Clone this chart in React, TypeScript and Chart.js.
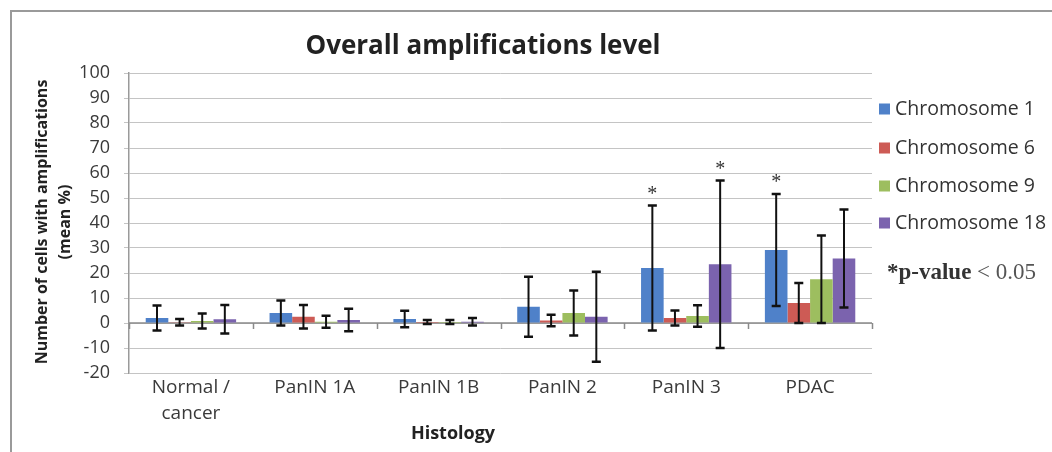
import React, { useEffect, useRef } from 'react';
import { Chart, registerables } from 'chart.js';

Chart.register(...registerables);

// ---------- data ----------
const chartTitle = 'Overall amplifications level';
const yAxisTitle = ['Number of cells with amplifications', '(mean %)'];
const xAxisTitle = 'Histology';
const categories: (string | string[])[] = [['Normal /', 'cancer'], 'PanIN 1A', 'PanIN 1B', 'PanIN 2', 'PanIN 3', 'PDAC'];
const seriesNames = ['Chromosome 1', 'Chromosome 6', 'Chromosome 9', 'Chromosome 18'];

const chr1Mean = [2, 4, 1.6, 6.5, 22, 29.2];
const chr1Err = [5, 5, 3.3, 12, 25, 22.4];
const chr6Mean = [0.3, 2.5, 0.4, 1, 2, 8];
const chr6Err = [1.3, 4.7, 0.8, 2.3, 3, 8];
const chr9Mean = [0.8, 0.5, 0.4, 4, 2.8, 17.5];
const chr9Err = [3, 2.4, 0.8, 9, 4.3, 17.5];
const chr18Mean = [1.5, 1.2, 0.5, 2.5, 23.5, 25.8];
const chr18Err = [5.7, 4.5, 1.5, 18, 33.5, 19.6];

const chr1Sig = [false, false, false, false, true, true];
const chr6Sig = [false, false, false, false, false, false];
const chr9Sig = [false, false, false, false, false, false];
const chr18Sig = [false, false, false, false, true, false];

const yMin = -20;
const yMax = 100;
const yStep = 10;
const footnoteBold = '*p-value';
const footnoteRest = ' < 0.05';

// ---------- styles ----------
const colors = ['#4F81C9', '#CD5B55', '#9DBE5F', '#7B63AE'];
const means = [chr1Mean, chr6Mean, chr9Mean, chr18Mean];
const errs = [chr1Err, chr6Err, chr9Err, chr18Err];
const sigs = [chr1Sig, chr6Sig, chr9Sig, chr18Sig];
const SANS = '"Open Sans", Lato, sans-serif';
const SERIF = '"Liberation Serif", "DejaVu Serif", serif';

const decor = {
  id: 'decor',
  beforeDatasetsDraw(chart: any) {
    const { ctx, chartArea } = chart;
    const x = chart.scales.x;
    const y = chart.scales.y;
    const y0 = y.getPixelForValue(0);
    const step = x.getPixelForValue(1) - x.getPixelForValue(0);
    ctx.save();
    ctx.strokeStyle = '#8a8a8a';
    ctx.lineWidth = 1.5;
    ctx.beginPath();
    ctx.moveTo(chartArea.left, y0);
    ctx.lineTo(chartArea.right, y0);
    for (let i = 0; i <= categories.length; i++) {
      const px = Math.round(x.getPixelForValue(i) - step / 2) + 0.5;
      ctx.moveTo(px, y0);
      ctx.lineTo(px, y0 + 6);
    }
    ctx.stroke();
    ctx.restore();
  },
  afterDatasetsDraw(chart: any) {
    const { ctx } = chart;
    const y = chart.scales.y;
    ctx.save();
    chart.data.datasets.forEach((ds: any, di: number) => {
      const meta = chart.getDatasetMeta(di);
      meta.data.forEach((bar: any, i: number) => {
        const v = ds.data[i];
        const e = errs[di][i];
        const top = y.getPixelForValue(v + e);
        const bot = y.getPixelForValue(v - e);
        const cx = bar.x;
        ctx.strokeStyle = '#111';
        ctx.lineWidth = 2;
        ctx.beginPath();
        ctx.moveTo(cx, top);
        ctx.lineTo(cx, bot);
        ctx.stroke();
        ctx.lineWidth = 2.5;
        ctx.beginPath();
        ctx.moveTo(cx - 4.5, top);
        ctx.lineTo(cx + 4.5, top);
        ctx.moveTo(cx - 4.5, bot);
        ctx.lineTo(cx + 4.5, bot);
        ctx.stroke();
        if (sigs[di][i]) {
          ctx.fillStyle = '#333';
          ctx.font = '20px ' + SERIF;
          ctx.textAlign = 'center';
          ctx.textBaseline = 'middle';
          ctx.fillText('*', cx, top - 11);
        }
      });
    });
    ctx.restore();
  },
  afterDraw(chart: any) {
    const { ctx } = chart;
    ctx.save();
    // frame
    ctx.strokeStyle = '#9a9a9a';
    ctx.lineWidth = 2;
    ctx.beginPath();
    ctx.moveTo(11, 452);
    ctx.lineTo(11, 11);
    ctx.lineTo(1052, 11);
    ctx.stroke();

    // title
    ctx.fillStyle = '#222';
    ctx.font = 'bold 26px ' + SANS;
    ctx.textAlign = 'center';
    ctx.textBaseline = 'alphabetic';
    ctx.fillText(chartTitle, 483, 54);

    // y-axis title
    ctx.save();
    ctx.translate(0, 222);
    ctx.rotate(-Math.PI / 2);
    ctx.font = 'bold 16px ' + SANS;
    ctx.textAlign = 'center';
    ctx.textBaseline = 'middle';
    ctx.fillText(yAxisTitle[0], 0, 42);
    ctx.fillText(yAxisTitle[1], 0, 65);
    ctx.restore();

    // x-axis title
    ctx.font = 'bold 18px ' + SANS;
    ctx.textAlign = 'center';
    ctx.textBaseline = 'alphabetic';
    ctx.fillText(xAxisTitle, 453, 439);

    // legend
    const legendY = [109, 148, 186, 223];
    ctx.textAlign = 'left';
    ctx.textBaseline = 'middle';
    ctx.font = '19.5px ' + SANS;
    seriesNames.forEach((name, i) => {
      ctx.fillStyle = colors[i];
      ctx.fillRect(879, legendY[i] - 5.5, 11, 11);
      ctx.fillStyle = '#333';
      ctx.fillText(name, 895, legendY[i]);
    });

    // footnote
    ctx.font = 'bold 23px ' + SERIF;
    ctx.fillStyle = '#333';
    ctx.fillText(footnoteBold, 887, 273);
    const w = ctx.measureText(footnoteBold).width;
    ctx.font = '23px ' + SERIF;
    ctx.fillStyle = '#555';
    ctx.fillText(footnoteRest, 887 + w, 273);
    ctx.restore();
  },
};

export default function App() {
  const ref = useRef<HTMLCanvasElement | null>(null);
  useEffect(() => {
    if (!ref.current) return;
    const chart = new Chart(ref.current, {
      type: 'bar',
      data: {
        labels: categories as any,
        datasets: seriesNames.map((name, i) => ({
          label: name,
          data: means[i],
          backgroundColor: colors[i],
          borderWidth: 0,
          categoryPercentage: 0.73,
          barPercentage: 1.0,
        })),
      },
      options: {
        animation: false,
        responsive: false,
        devicePixelRatio: 1,
        layout: { padding: { left: 0, top: 73, right: 180, bottom: 0 } },
        plugins: {
          legend: { display: false },
          tooltip: { enabled: false },
          title: { display: false },
        },
        scales: {
          x: {
            grid: { display: false, drawTicks: false },
            border: { display: false },
            ticks: {
              color: '#3a3a3a',
              font: { family: SANS, size: 19, lineHeight: 1.35 },
              padding: 2,
              maxRotation: 0,
              autoSkip: false,
            },
            afterFit(scale: any) {
              scale.height = 79;
            },
          },
          y: {
            min: yMin,
            max: yMax,
            grid: { color: '#c4c4c4', lineWidth: 1, tickLength: 5, drawTicks: true },
            border: { display: true, color: '#9a9a9a', width: 1.5 },
            ticks: {
              stepSize: yStep,
              color: '#3a3a3a',
              font: { family: SANS, size: 18 },
              padding: 14,
            },
            afterFit(scale: any) {
              scale.width = 129;
            },
          },
        },
      },
      plugins: [decor],
    });
    return () => chart.destroy();
  }, []);
  return (
    <div style={{ position: 'fixed', left: 0, top: 0, width: 1052, height: 452, background: '#fff' }}>
      <canvas ref={ref} width={1052} height={452} />
    </div>
  );
}
